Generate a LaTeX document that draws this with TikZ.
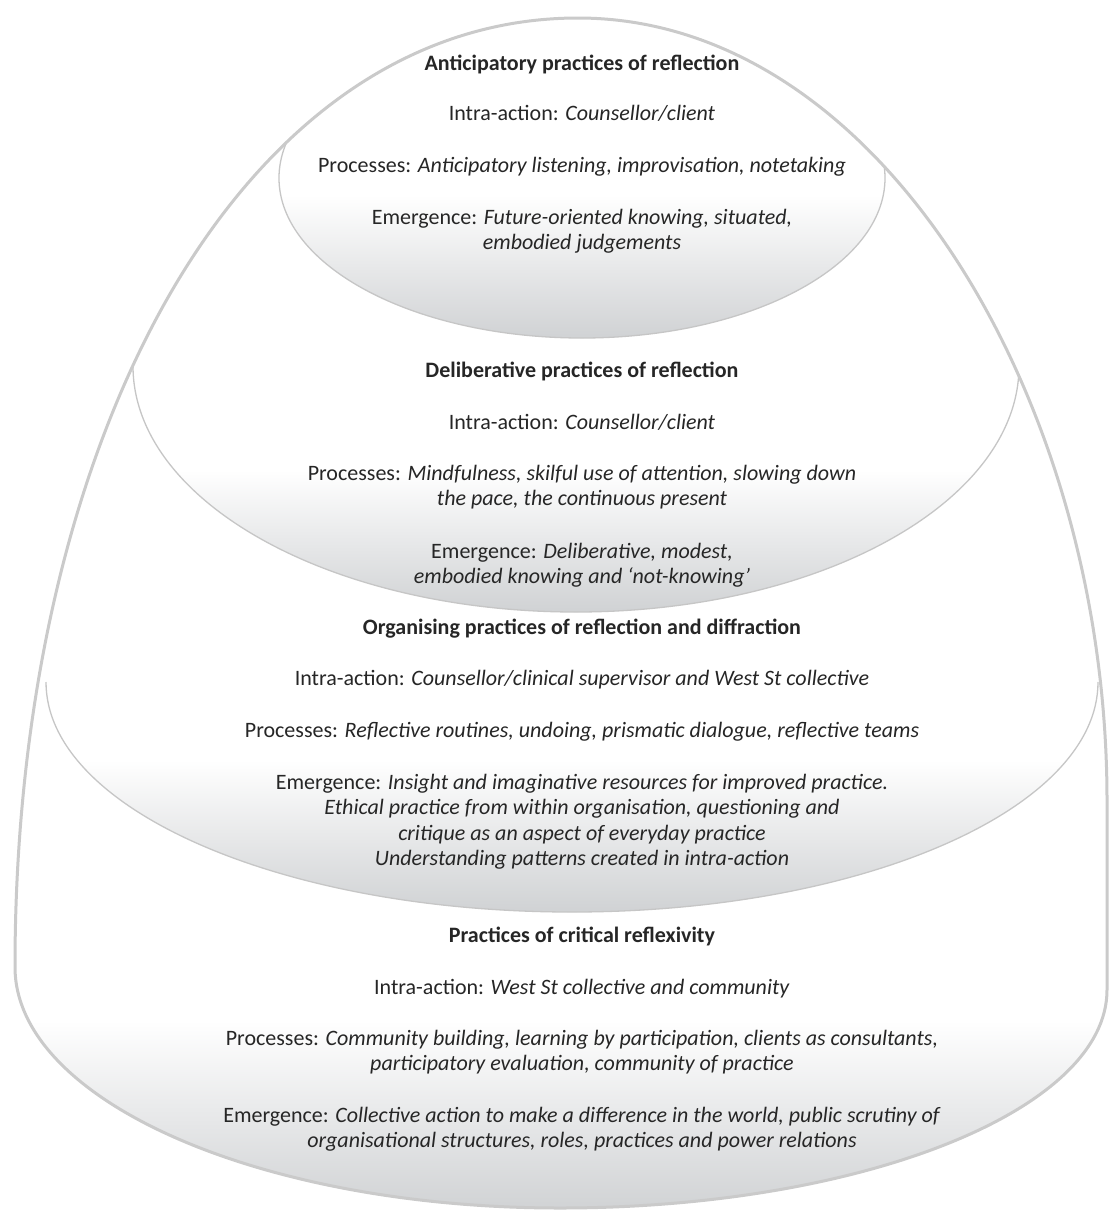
\documentclass[tikz,border=0pt]{standalone}
\usepackage{fontspec}
\setmainfont{Carlito}

\definecolor{layergray}{RGB}{208,210,212}
\definecolor{rimgray}{RGB}{202,202,202}
\definecolor{bowlgray}{RGB}{198,198,198}
\definecolor{inkgray}{RGB}{38,38,38}

% outer egg: shared rim of all four layers
\newcommand{\eggoutline}{(15,967) .. controls (15,430) and (245,18) .. (578,18)
  .. controls (880,18) and (1107,400) .. (1107,800) -- (1107,990)
  .. controls (1107,1110) and (862,1208) .. (560,1208)
  .. controls (259,1208) and (15,1100) .. (15,967) -- cycle}

% lower half of an ellipse: centre x, centre y, half width, half height
\newcommand{\bowlcurve}[4]{(#1-#3,#2)
  .. controls (#1-#3,#2+0.5523*#4) and (#1-0.5523*#3,#2+#4) .. (#1,#2+#4)
  .. controls (#1+0.5523*#3,#2+#4) and (#1+#3,#2+0.5523*#4) .. (#1+#3,#2)}

% everything above such a bowl
\newcommand{\bowlregion}[4]{(0,0) -- (0,#2) -- (#1-#3,#2)
  .. controls (#1-#3,#2+0.5523*#4) and (#1-0.5523*#3,#2+#4) .. (#1,#2+#4)
  .. controls (#1+0.5523*#3,#2+#4) and (#1+#3,#2+0.5523*#4) .. (#1+#3,#2)
  -- (1109,#2) -- (1109,0) -- cycle}

\newcommand{\tline}[3]{\node[txt] (#1) at (582,#2) {#3};}

\begin{document}
\begin{tikzpicture}[x=1pt,y=-1pt,
  txt/.style={anchor=base, inner sep=0pt, text=inkgray,
    font=\fontsize{22}{26}\selectfont},
  bowlline/.style={draw=bowlgray, line width=1.3pt},
  rimline/.style={draw=rimgray, line width=3pt},
  layershade/.style={top color=white, bottom color=layergray}]

\useasboundingbox (0,0) rectangle (1109,1216);

\begin{scope}
  \clip \eggoutline;
  % layer 4: critical reflexivity
  \fill[white] (0,0) rectangle (1109,1216);
  \shade[layershade] (0,1020) rectangle (1109,1212);
  % layer 3: organising practices
  \begin{scope}
    \clip \bowlregion{572}{682}{526}{230};
    \fill[white] (0,0) rectangle (1109,1216);
    \shade[layershade] (0,760) rectangle (1109,912);
  \end{scope}
  \draw[bowlline] \bowlcurve{572}{682}{526}{230};
  % layer 2: deliberative practices
  \begin{scope}
    \clip \bowlregion{576}{366}{443}{246};
    \fill[white] (0,0) rectangle (1109,1216);
    \shade[layershade] (0,470) rectangle (1109,612);
  \end{scope}
  \draw[bowlline] \bowlcurve{576}{366}{443}{246};
  % layer 1: anticipatory practices
  \begin{scope}
    \clip (582,178) ellipse [x radius=303pt, y radius=160pt];
    \fill[white] (0,0) rectangle (1109,1216);
    \shade[layershade] (0,195) rectangle (1109,338);
  \end{scope}
  \draw[bowlline] (582,178) ellipse [x radius=303pt, y radius=160pt];
\end{scope}
\draw[rimline] \eggoutline;

% anticipatory
\tline{a1}{70}{\textbf{Anticipatory practices of reflection}}
\tline{a2}{120}{Intra-action: \textit{Counsellor/client}}
\tline{a3}{172}{Processes: \textit{Anticipatory listening, improvisation, notetaking}}
\tline{a4}{224}{Emergence: \textit{Future-oriented knowing, situated,}}
\tline{a5}{249}{\textit{embodied judgements}}
% deliberative
\tline{b1}{377}{\textbf{Deliberative practices of reflection}}
\tline{b2}{429}{Intra-action: \textit{Counsellor/client}}
\tline{b3}{480}{Processes: \textit{Mindfulness, skilful use of attention, slowing down}}
\tline{b4}{505}{\textit{the pace, the continuous present}}
\tline{b5}{558}{Emergence: \textit{Deliberative, modest,}}
\tline{b6}{583}{\textit{embodied knowing and `not-knowing'}}
% organising
\tline{c1}{634}{\textbf{Organising practices of reflection and diffraction}}
\tline{c2}{685}{Intra-action: \textit{Counsellor/clinical supervisor and West St collective}}
\tline{c3}{737}{Processes: \textit{Reflective routines, undoing, prismatic dialogue, reflective teams}}
\tline{c4}{789}{Emergence: \textit{Insight and imaginative resources for improved practice.}}
\tline{c5}{814}{\textit{Ethical practice from within organisation, questioning and}}
\tline{c6}{840}{\textit{critique as an aspect of everyday practice}}
\tline{c7}{865}{\textit{Understanding patterns created in intra-action}}
% critical reflexivity
\tline{d1}{942}{\textbf{Practices of critical reflexivity}}
\tline{d2}{994}{Intra-action: \textit{West St collective and community}}
\tline{d3}{1045}{Processes: \textit{Community building, learning by participation, clients as consultants,}}
\tline{d4}{1070}{\textit{participatory evaluation, community of practice}}
\tline{d5}{1122}{Emergence: \textit{Collective action to make a difference in the world, public scrutiny of}}
\tline{d6}{1147}{\textit{organisational structures, roles, practices and power relations}}
\end{tikzpicture}
\end{document}
